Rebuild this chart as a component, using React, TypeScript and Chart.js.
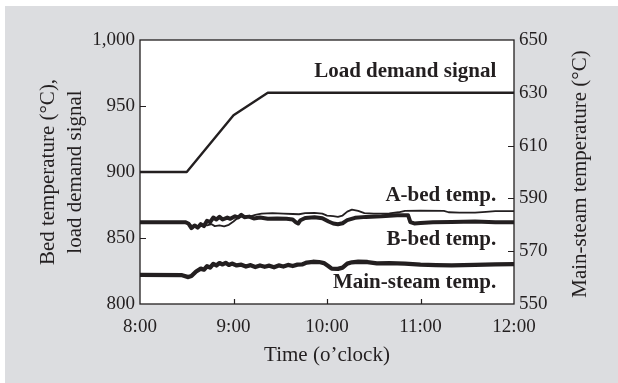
import React, { useEffect, useRef } from "react";
import { Chart, registerables } from "chart.js";

Chart.register(...registerables);

// ---- data (times in minutes after 8:00) ----
const xTickHours = [8, 9, 10, 11, 12];
const leftRange = [800, 1000];
const rightRange = [550, 650];

const loadTime = [0, 30, 60, 82, 240];
const loadValue = [900, 900, 943, 960, 960];

const aBedTime = [0, 30, 32, 34, 36, 38, 40, 43, 46, 48, 51, 54, 57, 60, 63, 66, 70, 74, 78, 85, 92, 98, 102, 106, 112, 117, 120, 124, 127, 130, 133, 136, 140, 144, 150, 160, 166, 170, 180, 195, 198, 205, 215, 222, 228, 240];
const aBedValue = [862, 862, 860.5, 858, 859.5, 858.5, 860, 859.5, 860.5, 859, 859.5, 858.8, 860, 862.5, 865.5, 866.5, 866, 867.5, 868.5, 868.8, 868.5, 868.2, 868, 868.8, 869, 868.5, 867, 866.5, 866, 867, 870, 871.5, 870.5, 868.8, 868.5, 868.6, 869.5, 870.5, 870.8, 870.6, 869.5, 869.2, 869.2, 869.8, 870.3, 870.4];

const bBedTime = [0, 29, 31, 33, 35, 37, 39, 41, 43, 45, 47, 49, 51, 53, 56, 58, 61, 63, 65, 67, 70, 73, 77, 82, 88, 94, 98, 100, 101.5, 103, 106, 112, 117, 121, 124, 127, 130, 133, 138, 145, 155, 165, 172, 173.5, 176, 180, 188, 200, 215, 228, 240];
const bBedValue = [862, 862, 861, 857.5, 859.5, 857.8, 860.5, 859, 863, 862, 865.5, 864, 866, 864, 865.5, 864.5, 866.5, 865.5, 867.5, 865.8, 866.2, 864.8, 865.5, 864.6, 864.8, 864.5, 864, 862, 861, 863.5, 865.2, 865.8, 865, 862.5, 861, 860.4, 861.2, 863.5, 865.3, 866, 866.5, 867.3, 867.3, 862, 861, 861.3, 862, 862.2, 862.5, 862, 862];

const steamTime = [0, 27, 31, 33, 36, 39, 41, 43, 45, 47, 49, 51, 53, 55, 57, 59, 62, 65, 68, 71, 74, 77, 80, 83, 86, 89, 92, 95, 98, 101, 104, 107, 111, 115, 118, 121, 123, 127, 130, 133, 136, 140, 146, 152, 160, 170, 180, 190, 200, 215, 228, 240];
const steamValue = [561, 560.9, 560.2, 560.6, 562.3, 563.4, 563, 564.3, 563.8, 565.2, 564.6, 565.5, 565, 565.6, 564.8, 565.3, 564.6, 564.9, 564.2, 564.7, 564, 564.6, 564.1, 564.5, 563.9, 564.6, 564.2, 564.8, 564.4, 564.9, 565, 565.7, 566, 565.9, 565.5, 564.3, 563.4, 563.3, 563.8, 565.3, 565.8, 566, 565.9, 565.4, 565.5, 565.3, 564.9, 564.7, 564.6, 564.8, 565, 565.1];

const labelTexts = ["Load demand signal", "A-bed temp.", "B-bed temp.", "Main-steam temp."];
const labelValues = [976, 882.5, 849, 816]; // on left axis
const labelHour = 11.81;

const leftTitle = ["Bed temperature (°C),", "load demand signal"];
const rightTitle = "Main-steam temperature (°C)";
const xTitle = "Time (o’clock)";

const INK = "#231f20";
const FONT = "'Liberation Serif', 'Times New Roman', serif";

const toPts = (t: number[], v: number[]) => t.map((m, i) => ({ x: 8 + m / 60, y: v[i] }));

const decor = {
  id: "decor",
  beforeDraw(chart: any) {
    const { ctx, chartArea: a, width, height } = chart;
    ctx.save();
    ctx.fillStyle = "#dcdde0";
    ctx.fillRect(5, 6, width - 5, height - 6);
    ctx.fillStyle = "#ffffff";
    ctx.fillRect(a.left, a.top, a.right - a.left, a.bottom - a.top);
    ctx.restore();
  },
  afterDraw(chart: any) {
    const { ctx, chartArea: a } = chart;
    const sx = chart.scales.x, sy = chart.scales.y, sy1 = chart.scales.y1;
    ctx.save();
    ctx.strokeStyle = INK;
    ctx.lineWidth = 1.3;
    ctx.strokeRect(a.left, a.top, a.right - a.left, a.bottom - a.top);
    ctx.lineWidth = 1.2;
    ctx.beginPath();
    sy.ticks.slice(1, -1).forEach((t: any) => {
      const p = Math.round(sy.getPixelForValue(t.value)) + 0.5;
      ctx.moveTo(a.left, p); ctx.lineTo(a.left + 6, p);
    });
    sy1.ticks.slice(1, -1).forEach((t: any) => {
      const p = Math.round(sy1.getPixelForValue(t.value)) + 0.5;
      ctx.moveTo(a.right, p); ctx.lineTo(a.right - 6, p);
    });
    sx.ticks.slice(1, -1).forEach((t: any) => {
      const p = Math.round(sx.getPixelForValue(t.value)) + 0.5;
      ctx.moveTo(p, a.bottom); ctx.lineTo(p, a.bottom - 5);
    });
    ctx.stroke();

    // right axis title (reads bottom to top)
    ctx.fillStyle = INK;
    ctx.font = `21px ${FONT}`;
    ctx.textAlign = "center";
    ctx.textBaseline = "middle";
    ctx.save();
    ctx.translate(580, (a.top + a.bottom) / 2 + 2);
    ctx.rotate(-Math.PI / 2);
    ctx.fillText(rightTitle, 0, 0);
    ctx.restore();

    // series labels
    ctx.font = `bold 21px ${FONT}`;
    ctx.textAlign = "right";
    labelTexts.forEach((txt, i) => {
      ctx.fillText(txt, sx.getPixelForValue(labelHour), sy.getPixelForValue(labelValues[i]));
    });
    ctx.restore();
  },
};

export default function App() {
  const ref = useRef<HTMLCanvasElement>(null);
  useEffect(() => {
    if (!ref.current) return;
    const line = (data: any, w: number, axis: string) => ({
      data,
      borderColor: INK,
      borderWidth: w,
      pointRadius: 0,
      tension: 0,
      borderJoinStyle: "round" as const,
      borderCapStyle: "round" as const,
      yAxisID: axis,
    });
    const noGrid = { display: false, drawTicks: false, tickLength: 0 };
    const chart = new Chart(ref.current, {
      type: "line",
      data: {
        datasets: [
          line(toPts(loadTime, loadValue), 2.4, "y"),
          line(toPts(bBedTime, bBedValue), 4, "y"),
          line(toPts(aBedTime, aBedValue), 1.8, "y"),
          line(toPts(steamTime, steamValue), 4.3, "y1"),
        ],
      },
      options: {
        responsive: false,
        animation: false,
        devicePixelRatio: 1,
        layout: { padding: { top: 40, left: 0, right: 0, bottom: 0 } },
        plugins: { legend: { display: false }, tooltip: { enabled: false } },
        scales: {
          x: {
            type: "linear",
            min: xTickHours[0],
            max: xTickHours[xTickHours.length - 1],
            grid: noGrid,
            border: { display: false },
            ticks: {
              stepSize: 1,
              padding: 12,
              color: INK,
              maxRotation: 0,
              font: { family: FONT, size: 19 },
              callback: (v: any) => `${v}:00`,
            },
            title: {
              display: true,
              text: xTitle,
              color: INK,
              font: { family: FONT, size: 21 },
              padding: { top: 0, bottom: 15 },
            },
            afterFit: (s: any) => { s.height = 79; },
          },
          y: {
            position: "left",
            min: leftRange[0],
            max: leftRange[1],
            grid: noGrid,
            border: { display: false },
            ticks: {
              stepSize: 50,
              padding: 5,
              color: INK,
              font: { family: FONT, size: 19 },
              callback: (v: any) => Number(v).toLocaleString("en-US"),
            },
            title: {
              display: true,
              text: leftTitle,
              color: INK,
              font: { family: FONT, size: 21, lineHeight: 1.27 },
              padding: { top: 35, bottom: 0 },
            },
            afterFit: (s: any) => { s.width = 140; },
          },
          y1: {
            position: "right",
            min: rightRange[0],
            max: rightRange[1],
            grid: noGrid,
            border: { display: false },
            ticks: {
              stepSize: 20,
              padding: 5,
              color: INK,
              font: { family: FONT, size: 19 },
            },
            afterFit: (s: any) => { s.width = 104; },
          },
        },
      },
      plugins: [decor],
    });
    return () => chart.destroy();
  }, []);
  return (
    <div style={{ position: "fixed", left: 0, top: 0, width: 618, height: 383 }}>
      <canvas ref={ref} width={618} height={383} style={{ display: "block" }} />
    </div>
  );
}
